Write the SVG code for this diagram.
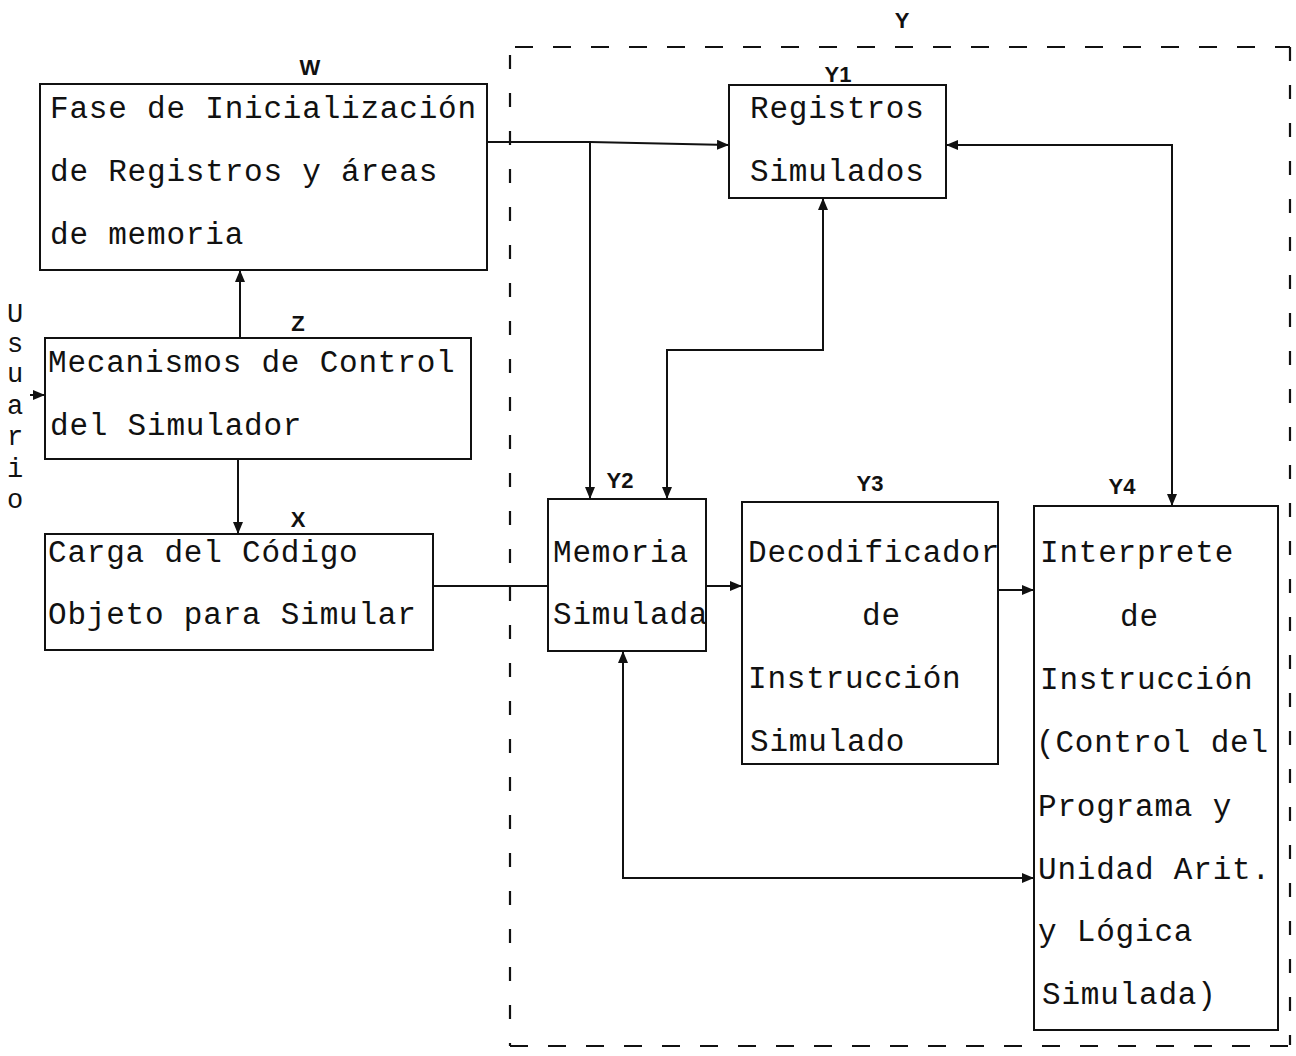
<svg xmlns="http://www.w3.org/2000/svg" width="1296" height="1056" viewBox="0 0 1296 1056">
  <style>
    .box { fill: none; stroke: #111; stroke-width: 2; }
    .txt { font-family: "Liberation Mono", "Courier New", monospace; font-size: 31px; letter-spacing: 0.8px; fill: #111; }
    .side { font-family: "Liberation Mono", "Courier New", monospace; font-size: 27px; fill: #111; text-anchor: middle; }
    .lbl { font-family: "Liberation Sans", Arial, sans-serif; font-size: 22px; font-weight: bold; fill: #111; text-anchor: middle; }
    .wire { fill: none; stroke: #111; stroke-width: 2; }
    .frame { fill: none; stroke: #111; stroke-width: 2.2; }
  </style>
  <defs>
    <marker id="arrow" viewBox="0 0 12 10" refX="12" refY="5" markerWidth="12" markerHeight="10" markerUnits="userSpaceOnUse" orient="auto-start-reverse">
      <path d="M0,0 L12,5 L0,10 Z" fill="#111"/>
    </marker>
  </defs>
  <rect width="1296" height="1056" fill="#fff"/>

  <!-- simulator boundary -->
  <g id="frame-Y">
    <path class="frame" d="M515,47 H1290" stroke-dasharray="18 20"/>
    <path class="frame" d="M1290,47 V1045" stroke-dasharray="14 24"/>
    <path class="frame" d="M510,1046 H1290" stroke-dasharray="18 20"/>
    <path class="frame" d="M510,55 V1046" stroke-dasharray="14 24"/>
    <text class="lbl" x="902" y="28">Y</text>
  </g>

  <g id="node-W">
    <rect class="box" x="40" y="84" width="447" height="186"/>
    <text class="lbl" x="310" y="75">W</text>
    <text class="txt" x="50" y="118">Fase de Inicialización</text>
    <text class="txt" x="50" y="181">de Registros y áreas</text>
    <text class="txt" x="50" y="244">de memoria</text>
  </g>

  <g id="node-Z">
    <rect class="box" x="45" y="338" width="426" height="121"/>
    <text class="lbl" x="298" y="331">Z</text>
    <text class="txt" x="48" y="372">Mecanismos de Control</text>
    <text class="txt" x="50" y="435">del Simulador</text>
  </g>

  <g id="node-X">
    <rect class="box" x="45" y="534" width="388" height="116"/>
    <text class="lbl" x="298" y="527">X</text>
    <text class="txt" x="48" y="562">Carga del Código</text>
    <text class="txt" x="48" y="624">Objeto para Simular</text>
  </g>

  <g id="node-usuario">
    <text class="side" x="15" y="322">U</text>
    <text class="side" x="15" y="352">s</text>
    <text class="side" x="15" y="382">u</text>
    <text class="side" x="15" y="414">a</text>
    <text class="side" x="15" y="445">r</text>
    <text class="side" x="15" y="477">i</text>
    <text class="side" x="15" y="508">o</text>
  </g>

  <g id="node-Y1">
    <rect class="box" x="729" y="85" width="217" height="113"/>
    <text class="lbl" x="838" y="82">Y1</text>
    <text class="txt" x="750" y="118">Registros</text>
    <text class="txt" x="750" y="181">Simulados</text>
  </g>

  <g id="node-Y2">
    <rect class="box" x="548" y="499" width="158" height="152"/>
    <text class="lbl" x="620" y="488">Y2</text>
    <text class="txt" x="553" y="562">Memoria</text>
    <text class="txt" x="553" y="624">Simulada</text>
  </g>

  <g id="node-Y3">
    <rect class="box" x="742" y="502" width="256" height="262"/>
    <text class="lbl" x="870" y="491">Y3</text>
    <text class="txt" x="748" y="562">Decodificador</text>
    <text class="txt" x="862" y="625">de</text>
    <text class="txt" x="748" y="688">Instrucción</text>
    <text class="txt" x="750" y="751">Simulado</text>
  </g>

  <g id="node-Y4">
    <rect class="box" x="1034" y="506" width="244" height="524"/>
    <text class="lbl" x="1122" y="494">Y4</text>
    <text class="txt" x="1040" y="562">Interprete</text>
    <text class="txt" x="1120" y="626">de</text>
    <text class="txt" x="1040" y="689">Instrucción</text>
    <text class="txt" x="1036" y="752">(Control del</text>
    <text class="txt" x="1038" y="816">Programa y</text>
    <text class="txt" x="1038" y="879">Unidad Arit.</text>
    <text class="txt" x="1038" y="941">y Lógica</text>
    <text class="txt" x="1042" y="1004">Simulada)</text>
  </g>

  <g id="connectors">
    <!-- user input into control -->
    <path class="wire" d="M30,395 H45" marker-end="url(#arrow)"/>
    <!-- control to initialisation -->
    <path class="wire" d="M240,338 V270" marker-end="url(#arrow)"/>
    <!-- control to code loading -->
    <path class="wire" d="M238,459 V534" marker-end="url(#arrow)"/>
    <!-- code loading to simulated memory -->
    <path class="wire" d="M433,586 H548"/>
    <!-- initialisation to registers -->
    <path class="wire" d="M487,142 H590 L729,145" marker-end="url(#arrow)"/>
    <!-- initialisation to memory -->
    <path class="wire" d="M590,142 V499" marker-end="url(#arrow)"/>
    <!-- registers to memory (both ways) -->
    <path class="wire" d="M823,198 V350 H667 V499" marker-start="url(#arrow)" marker-end="url(#arrow)"/>
    <!-- registers to interpreter (both ways) -->
    <path class="wire" d="M946,145 H1172 V506" marker-start="url(#arrow)" marker-end="url(#arrow)"/>
    <!-- memory to decoder -->
    <path class="wire" d="M706,586 H742" marker-end="url(#arrow)"/>
    <!-- decoder to interpreter -->
    <path class="wire" d="M998,590 H1034" marker-end="url(#arrow)"/>
    <!-- interpreter to memory (both ways) -->
    <path class="wire" d="M623,651 V878 H1034" marker-start="url(#arrow)" marker-end="url(#arrow)"/>
  </g>
</svg>
